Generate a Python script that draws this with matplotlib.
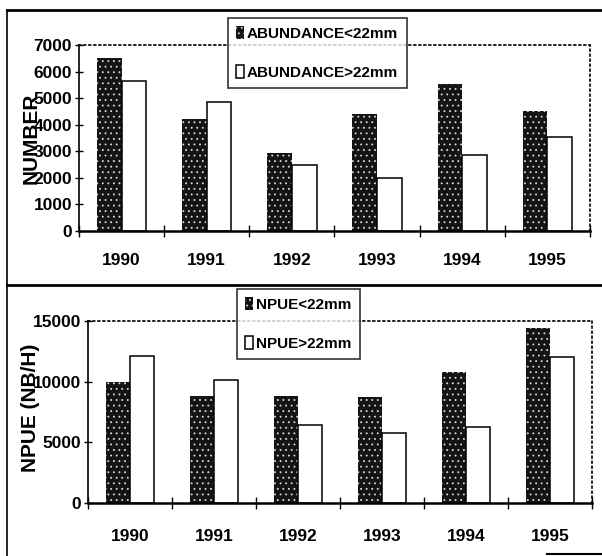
import numpy as np
import matplotlib
matplotlib.use('Agg')
import matplotlib.pyplot as plt
from matplotlib.lines import Line2D

# Data
years = ['1990', '1991', '1992', '1993', '1994', '1995']

abund_small = [6500, 4200, 2950, 4400, 5550, 4500]
abund_large = [5650, 4850, 2500, 2000, 2850, 3550]
abund_ticks = [0, 1000, 2000, 3000, 4000, 5000, 6000, 7000]

npue_small = [10000, 8800, 8850, 8700, 10800, 14400]
npue_large = [12100, 10150, 6450, 5750, 6250, 12000]
npue_ticks = [0, 5000, 10000, 15000]

labels_top = ['ABUNDANCE<22mm', 'ABUNDANCE>22mm']
labels_bot = ['NPUE<22mm', 'NPUE>22mm']

plt.rcParams['font.family'] = ['Liberation Sans Narrow', 'Liberation Sans', 'DejaVu Sans']
plt.rcParams['hatch.linewidth'] = 0.6

fig = plt.figure(figsize=(6.02, 5.56), dpi=100)


def panel(rect, small, large, ticks, ymax, ylabel, label_xy,
          legend_labels, legend_xy, xpad):
    ax = fig.add_axes(rect)
    x = np.arange(len(years))
    w = 0.29
    dark = ax.bar(x - w / 2, small, w, color='#141414', edgecolor='#d8d8d8',
                  hatch='...', linewidth=0, zorder=2)
    light = ax.bar(x + w / 2, large, w, color='white', edgecolor='black',
                   linewidth=1.1, zorder=2)

    ax.set_xlim(-0.5, len(years) - 0.5)
    ax.set_ylim(0, ymax)
    ax.set_yticks(ticks)
    ax.set_yticklabels([str(t) for t in ticks], fontsize=12.5, fontweight='bold')
    ax.set_xticks(x)
    ax.set_xticklabels(years, fontsize=12.5, fontweight='bold')
    ax.tick_params(axis='x', length=0, pad=xpad)
    ax.tick_params(axis='y', direction='inout', length=6, width=1, pad=2)

    # category boundary ticks
    ax.set_xticks(np.arange(len(years) + 1) - 0.5, minor=True)
    ax.tick_params(axis='x', which='minor', direction='inout', length=9, width=1)

    for s in ('top', 'right'):
        ax.spines[s].set_linestyle((0, (1, 2)))
        ax.spines[s].set_linewidth(1.2)
    ax.spines['bottom'].set_linewidth(1.8)
    ax.spines['left'].set_linewidth(1.2)

    fig.text(label_xy[0] / 602, 1 - label_xy[1] / 556, ylabel, rotation=90,
             ha='center', va='center', fontsize=15, fontweight='bold',
             family='Liberation Sans')

    leg = fig.legend([dark, light], legend_labels, loc='upper left',
                     bbox_to_anchor=(legend_xy[0] / 602, 1 - legend_xy[1] / 556),
                     frameon=True, fancybox=False, edgecolor='black',
                     prop={'size': 11, 'weight': 'bold'},
                     handlelength=0.5, handleheight=0.9,
                     handletextpad=0.2, labelspacing=1.6, borderpad=0.55,
                     borderaxespad=0)
    leg.get_frame().set_linewidth(1.2)
    return ax


panel([79 / 602, 1 - 231 / 556, 511 / 602, 186 / 556],
      abund_small, abund_large, abund_ticks, 7000, 'NUMBER', (31, 138),
      labels_top, (228, 18), 16)

panel([88 / 602, 1 - 503 / 556, 504 / 602, 182 / 556],
      npue_small, npue_large, npue_ticks, 15000, 'NPUE (NB/H)', (31, 408),
      labels_bot, (237, 289), 19)


# outer frame of the scanned page
def px_line(x0, y0, x1, y1, lw):
    fig.add_artist(Line2D([x0 / 602, x1 / 602], [1 - y0 / 556, 1 - y1 / 556],
                          color='black', linewidth=lw, transform=fig.transFigure))


px_line(7, 10, 602, 10, 2.0)
px_line(7, 10, 7, 556, 1.2)
px_line(7, 285, 602, 285, 2.0)
px_line(547, 554, 602, 554, 1.5)

fig.savefig('out.png', dpi=100)
